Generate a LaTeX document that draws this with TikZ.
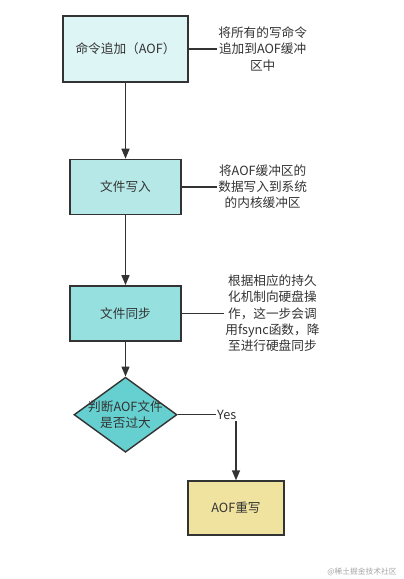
\documentclass[tikz,border=0pt]{standalone}
\usepackage{fontspec}
\setmainfont{Noto Sans CJK SC}
\usepackage{xcolor}
\usetikzlibrary{arrows.meta,positioning,shapes.geometric}
\definecolor{ink}{RGB}{51,51,51}
\definecolor{cyanA}{RGB}{221,245,245}
\definecolor{cyanB}{RGB}{182,232,232}
\definecolor{cyanC}{RGB}{150,224,224}
\definecolor{cyanD}{RGB}{102,208,208}
\definecolor{sand}{RGB}{240,227,160}

\begin{document}
\begin{tikzpicture}[
  font=\fontsize{9}{11.5}\selectfont, text=ink,
  stepbox/.style={rectangle,draw=ink,line width=1pt,align=center,
                  minimum width=2.775cm,minimum height=1.375cm},
  judge/.style={diamond,draw=ink,line width=1pt,fill=cyanD,inner sep=0pt,
                minimum width=2.575cm,minimum height=1.875cm},
  note/.style={align=center,inner sep=1pt},
  arrow/.style={-{Triangle[length=0.25cm,width=0.2cm]},draw=ink,line width=1pt},
  link/.style={draw=ink,line width=1pt}
]
\useasboundingbox (0,0) rectangle (10.075,-14.475);
% append command
\node[stepbox,fill=cyanA,minimum width=3.125cm,minimum height=1.65cm] (append) at (3.1375,-1.225) {命令追加（AOF）};
% write file
\node[stepbox,fill=cyanB,below=1.9cm of append] (write) {文件写入};
% sync file
\node[stepbox,fill=cyanC,below=1.75cm of write] (sync) {文件同步};
% size check
\node[judge,below=0.875cm of sync] (check) {};
\node[align=center,inner sep=0pt] (checktext) at (check) {判断AOF文件\\是否过大};
% rewrite node
\node[stepbox,fill=sand,minimum width=2.4cm,minimum height=1.35cm] (rewrite) at (5.9,-12.7) {AOF重写};
% notes on the right
\node[note,anchor=west,right=0.7cm of append] (appendnote) {将所有的写命令\\追加到AOF缓冲\\区中};
\node[note,anchor=west,right=0.875cm of write] (writenote) {将AOF缓冲区的\\数据写入到系统\\的内核缓冲区};
\node[note,anchor=west,right=1.05cm of sync] (syncnote) {根据相应的持久\\化机制向硬盘操\\作，这一步会调\\用fsync函数，降\\至进行硬盘同步};
% arrows
\draw[arrow] (append) -- (write);
\draw[arrow] (write) -- (sync);
\draw[arrow] (sync) -- (check);
\draw[arrow] (check.east) -| node[pos=0.42,fill=white,inner sep=1pt] {Yes} (rewrite.north);
% note links
\draw[link] (append.east) -- (appendnote.west);
\draw[link] (write.east) -- (writenote.west);
\draw[link] (sync.east) -- (syncnote.west);
% watermark
\node[text=black!35,font=\fontsize{5.5}{6}\selectfont] (mark) at (9.05,-14.3) {@稀土掘金技术社区};
\end{tikzpicture}
\end{document}
